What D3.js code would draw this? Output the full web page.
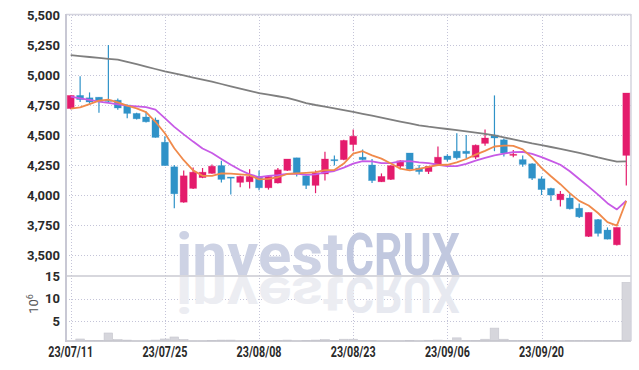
<!DOCTYPE html>
<html>
<head>
<meta charset="utf-8">
<script src="https://cdn.jsdelivr.net/npm/d3@7"></script>
<style>
    body { margin: 0; background: #fff; }
    svg text { font-family: Roboto, "DejaVu Sans", sans-serif; }
</style>
</head>
<body>
<div id="chart"></div>
<script>
// Global vars
var WIDTH = 639;
var HEIGHT = 370;

// trading days
var dates = ['23/07/11','23/07/12','23/07/13','23/07/14','23/07/17','23/07/18','23/07/19','23/07/20','23/07/21','23/07/24',
    '23/07/25','23/07/26','23/07/27','23/07/28','23/07/31','23/08/01','23/08/02','23/08/03','23/08/04','23/08/07',
    '23/08/08','23/08/09','23/08/10','23/08/11','23/08/14','23/08/16','23/08/17','23/08/18','23/08/21','23/08/22',
    '23/08/23','23/08/24','23/08/25','23/08/28','23/08/29','23/08/30','23/08/31','23/09/01','23/09/04','23/09/05',
    '23/09/06','23/09/07','23/09/08','23/09/11','23/09/12','23/09/13','23/09/14','23/09/15','23/09/18','23/09/19',
    '23/09/20','23/09/21','23/09/22','23/09/25','23/09/26','23/09/27','23/10/04','23/10/05','23/10/06','23/10/10'];

var open = [4720,4830,4810,4815,4790,4790,4750,4680,4650,4625,
    4440,4235,3940,4055,4145,4180,4245,4150,4105,4110,
    4155,4060,4100,4205,4310,4160,4080,4175,4295,4295,
    4420,4315,4250,4110,4130,4240,4350,4225,4195,4255,
    4325,4365,4365,4315,4430,4500,4460,4330,4295,4260,
    4135,4055,3960,3975,3890,3655,3795,3708,3585,4330];
var high = [4830,4990,4855,4815,5250,4805,4755,4685,4695,4645,
    4490,4250,4205,4230,4225,4255,4285,4150,4160,4215,
    4205,4165,4225,4300,4310,4165,4205,4360,4330,4460,
    4545,4380,4300,4180,4245,4290,4350,4250,4240,4405,
    4340,4515,4500,4420,4545,4830,4470,4375,4330,4265,
    4155,4060,4033,4010,3930,3855,3800,3730,3730,4850];
var low = [4715,4775,4760,4685,4775,4710,4640,4630,4605,4478,
    4245,3890,3935,4050,4140,4178,4105,4005,4065,4055,
    4040,4045,4095,4200,4155,4050,4015,4120,4245,4290,
    4365,4290,4100,4108,4125,4215,4215,4170,4175,4250,
    4280,4295,4305,4300,4410,4365,4320,4315,4235,4125,
    4000,3950,3905,3880,3808,3650,3655,3630,3580,4080];
var close = [4830,4795,4775,4780,4780,4725,4680,4635,4610,4480,
    4245,4010,4160,4190,4190,4240,4130,4145,4155,4155,
    4060,4155,4210,4300,4180,4080,4185,4300,4290,4455,
    4490,4295,4120,4155,4245,4285,4215,4195,4240,4315,
    4295,4310,4345,4415,4475,4475,4350,4340,4255,4140,
    4045,4000,4008,3885,3818,3855,3680,3632,3730,4850];

// volume, millions
var volume = [0.5,0.95,0.6,0.6,2.3,0.8,0.7,0.5,0.5,0.7,
    0.95,1.4,0.8,0.5,0.5,0.6,0.7,0.7,0.5,0.5,
    0.5,0.5,0.6,0.7,0.5,0.6,0.7,0.8,0.6,0.9,
    0.9,0.6,0.6,0.5,0.5,0.5,0.6,0.5,0.6,0.7,
    0.6,1.2,0.6,0.6,0.9,3.4,0.9,0.6,0.6,0.6,
    0.6,0.6,0.5,0.6,0.6,0.6,0.6,0.6,0.6,13.7];

// moving averages
var ma5 = [4720,4730,4758,4786,4795,4772,4745,4722,4690,4610,
    4515,4390,4290,4205,4160,4160,4180,4178,4172,4165,
    4130,4135,4148,4175,4180,4185,4190,4208,4208,4262,
    4345,4365,4330,4303,4262,4220,4205,4218,4235,4250,
    4252,4272,4300,4336,4368,4404,4412,4410,4380,4312,
    4226,4156,4090,4016,3951,3913,3850,3774,3745,3950];
var ma10 = [4819,4806,4792,4778,4767,4756,4745,4739,4733,4711,
    4640,4568,4505,4445,4388,4350,4300,4252,4208,4172,
    4148,4160,4165,4176,4178,4168,4172,4188,4200,4228,
    4262,4282,4280,4265,4265,4280,4282,4272,4265,4252,
    4240,4240,4260,4286,4310,4330,4345,4357,4360,4342,
    4316,4285,4252,4198,4133,4070,4003,3932,3880,3952];
var ma60 = [5165,5158,5150,5143,5135,5128,5110,5090,5070,5050,
    5031,5014,4996,4979,4962,4944,4925,4906,4887,4868,
    4849,4836,4823,4810,4788,4766,4750,4736,4722,4708,
    4693,4677,4661,4645,4628,4612,4596,4580,4569,4560,
    4550,4540,4530,4520,4510,4496,4480,4463,4446,4430,
    4416,4400,4384,4368,4351,4333,4313,4295,4278,4280];

var xTicks = ['23/07/11','23/07/25','23/08/08','23/08/23','23/09/06','23/09/20'];
var priceTicks = [3500,3750,4000,4250,4500,4750,5000,5250,5500];
var volTicks = [5,10,15];

var UP = '#e41b6c';
var DOWN = '#2f92c8';

/*
 * Render the graphic.
 */
var render = function() {
    var plot = { left: 66, right: 631, top: 14, split: 276, bottom: 341 };

    var containerElement = d3.select('#chart');
    containerElement.html('');

    var svg = containerElement.append('svg')
        .attr('width', WIDTH)
        .attr('height', HEIGHT);

    var x = d3.scaleBand()
        .domain(dates)
        .range([plot.left, plot.right])
        .paddingInner(0.26)
        .paddingOuter(0.13);

    var y = d3.scaleLinear()
        .domain([3325, 5500])
        .range([plot.split, 15]);

    var yVol = d3.scaleLinear()
        .domain([0, 15])
        .range([343.2, 276.6]);

    var cx = function(d) { return x(d) + x.bandwidth() / 2; };

    // grid
    var grid = svg.append('g').attr('class', 'grid')
        .attr('stroke', '#c4c4d8')
        .attr('stroke-width', 1)
        .attr('stroke-dasharray', '1,2');

    grid.selectAll('line.h')
        .data(priceTicks)
        .enter().append('line')
        .attr('class', 'h')
        .attr('x1', plot.left).attr('x2', plot.right)
        .attr('y1', function(d) { return Math.round(y(d)) + 0.5; })
        .attr('y2', function(d) { return Math.round(y(d)) + 0.5; });

    grid.selectAll('line.hv')
        .data(volTicks.slice(0, 2))
        .enter().append('line')
        .attr('class', 'hv')
        .attr('x1', plot.left).attr('x2', plot.right)
        .attr('y1', function(d) { return Math.round(yVol(d)) + 0.5; })
        .attr('y2', function(d) { return Math.round(yVol(d)) + 0.5; });

    grid.selectAll('line.v')
        .data(xTicks)
        .enter().append('line')
        .attr('class', 'v')
        .attr('y1', plot.top).attr('y2', plot.bottom)
        .attr('x1', function(d) { return Math.round(cx(d)) + 0.5; })
        .attr('x2', function(d) { return Math.round(cx(d)) + 0.5; });

    // watermark + reflection
    var drawMark = function(g, c1, c2) {
        g.append('text')
            .attr('x', 176).attr('y', 275)
            .attr('font-size', 60).attr('font-weight', 'bold')
            .attr('textLength', 168).attr('lengthAdjust', 'spacingAndGlyphs')
            .attr('fill', c1)
            .text('invest');
        g.append('text')
            .attr('x', 345).attr('y', 275)
            .attr('font-size', 60).attr('font-weight', 'bold')
            .attr('textLength', 115).attr('lengthAdjust', 'spacingAndGlyphs')
            .attr('fill', c2)
            .text('CRUX');
    };
    drawMark(svg.append('g')
        .attr('transform', 'translate(0,276) scale(1,-0.82) translate(0,-276)'), '#ecedf2', '#e7e9f0');
    drawMark(svg.append('g'), '#cdd2e4', '#c1c8df');

    // volume bars
    svg.append('g').selectAll('rect')
        .data(volume)
        .enter().append('rect')
        .attr('x', function(d, i) { return cx(dates[i]) - x.step() / 2 + 0.4; })
        .attr('width', x.step() - 0.8)
        .attr('y', function(d) { return Math.min(yVol(d), plot.bottom); })
        .attr('height', function(d) { return Math.max(0, plot.bottom - yVol(d)); })
        .attr('fill', '#d6d6dc')
        .attr('stroke', '#c6c6ce')
        .attr('stroke-width', 0.6);

    // frame
    var frame = svg.append('g').attr('fill', 'none');
    frame.append('line').attr('x1', plot.left).attr('x2', plot.right)
        .attr('y1', plot.top + 0.5).attr('y2', plot.top + 0.5)
        .attr('stroke', '#d4d4de').attr('stroke-width', 1.5);
    frame.append('line').attr('x1', plot.left).attr('x2', plot.right)
        .attr('y1', plot.split).attr('y2', plot.split)
        .attr('stroke', '#cacad2').attr('stroke-width', 1.6);
    frame.append('line').attr('x1', plot.left).attr('x2', plot.right)
        .attr('y1', plot.bottom).attr('y2', plot.bottom)
        .attr('stroke', '#c4c4cc').attr('stroke-width', 1.4);
    frame.append('line').attr('x1', plot.left).attr('x2', plot.left)
        .attr('y1', plot.top).attr('y2', plot.bottom + 1)
        .attr('stroke', '#c8c8d4').attr('stroke-width', 2);
    frame.append('line').attr('x1', plot.right).attr('x2', plot.right)
        .attr('y1', plot.top).attr('y2', plot.bottom)
        .attr('stroke', '#d4d4de').attr('stroke-width', 1.5);

    // candles
    var candles = svg.append('g').selectAll('g')
        .data(dates)
        .enter().append('g')
        .attr('fill', function(d, i) { return close[i] >= open[i] ? UP : DOWN; })
        .attr('stroke', function(d, i) { return close[i] >= open[i] ? UP : DOWN; });

    candles.append('line')
        .attr('x1', function(d) { return cx(d); })
        .attr('x2', function(d) { return cx(d); })
        .attr('y1', function(d, i) { return y(high[i]); })
        .attr('y2', function(d, i) { return y(low[i]); })
        .attr('stroke-width', 1.2);

    candles.append('rect')
        .attr('x', function(d) { return x(d); })
        .attr('width', x.bandwidth())
        .attr('y', function(d, i) { return y(Math.max(open[i], close[i])); })
        .attr('height', function(d, i) { return Math.max(1.2, Math.abs(y(open[i]) - y(close[i]))); })
        .attr('stroke-width', 0.8)
        .attr('stroke-opacity', 0.35);

    // moving averages
    var drawLine = function(values, colour, w) {
        var line = d3.line()
            .x(function(d, i) { return cx(dates[i]); })
            .y(function(d) { return y(d); });
        svg.append('path')
            .datum(values)
            .attr('d', line)
            .attr('fill', 'none')
            .attr('stroke', colour)
            .attr('stroke-width', w)
            .attr('stroke-linejoin', 'round');
    };
    drawLine(ma60, '#7f7f7f', 1.8);
    drawLine(ma10, '#c75ae6', 1.8);
    drawLine(ma5, '#f08a4b', 1.8);

    // axes
    var yAxis = svg.append('g')
        .attr('transform', 'translate(' + plot.left + ',0)')
        .call(d3.axisLeft(y).tickValues(priceTicks).tickFormat(d3.format(',')).tickSize(0).tickPadding(6));
    var volAxis = svg.append('g')
        .attr('transform', 'translate(' + plot.left + ',0)')
        .call(d3.axisLeft(yVol).tickValues(volTicks).tickSize(0).tickPadding(6));
    var xAxis = svg.append('g')
        .attr('transform', 'translate(0,' + plot.bottom + ')')
        .call(d3.axisBottom(x).tickValues(xTicks).tickSize(0).tickPadding(6));

    [yAxis, volAxis, xAxis].forEach(function(a) {
        a.select('.domain').remove();
        a.selectAll('text')
            .attr('font-family', 'Roboto, "DejaVu Sans", sans-serif')
            .attr('font-weight', 'bold')
            .attr('font-size', 13)
            .attr('fill', '#2a2a2a');
    });
    xAxis.selectAll('text')
        .attr('font-size', 14.5)
        .attr('textLength', 45)
        .attr('lengthAdjust', 'spacingAndGlyphs');

    // volume unit
    var unit = svg.append('text')
        .attr('transform', 'translate(38,304) rotate(-90)')
        .attr('text-anchor', 'middle')
        .attr('font-size', 13)
        .attr('fill', '#555');
    unit.append('tspan').text('10');
    unit.append('tspan').attr('baseline-shift', 'super').attr('font-size', 9).text('6');
};

window.onload = render;
</script>
</body>
</html>
